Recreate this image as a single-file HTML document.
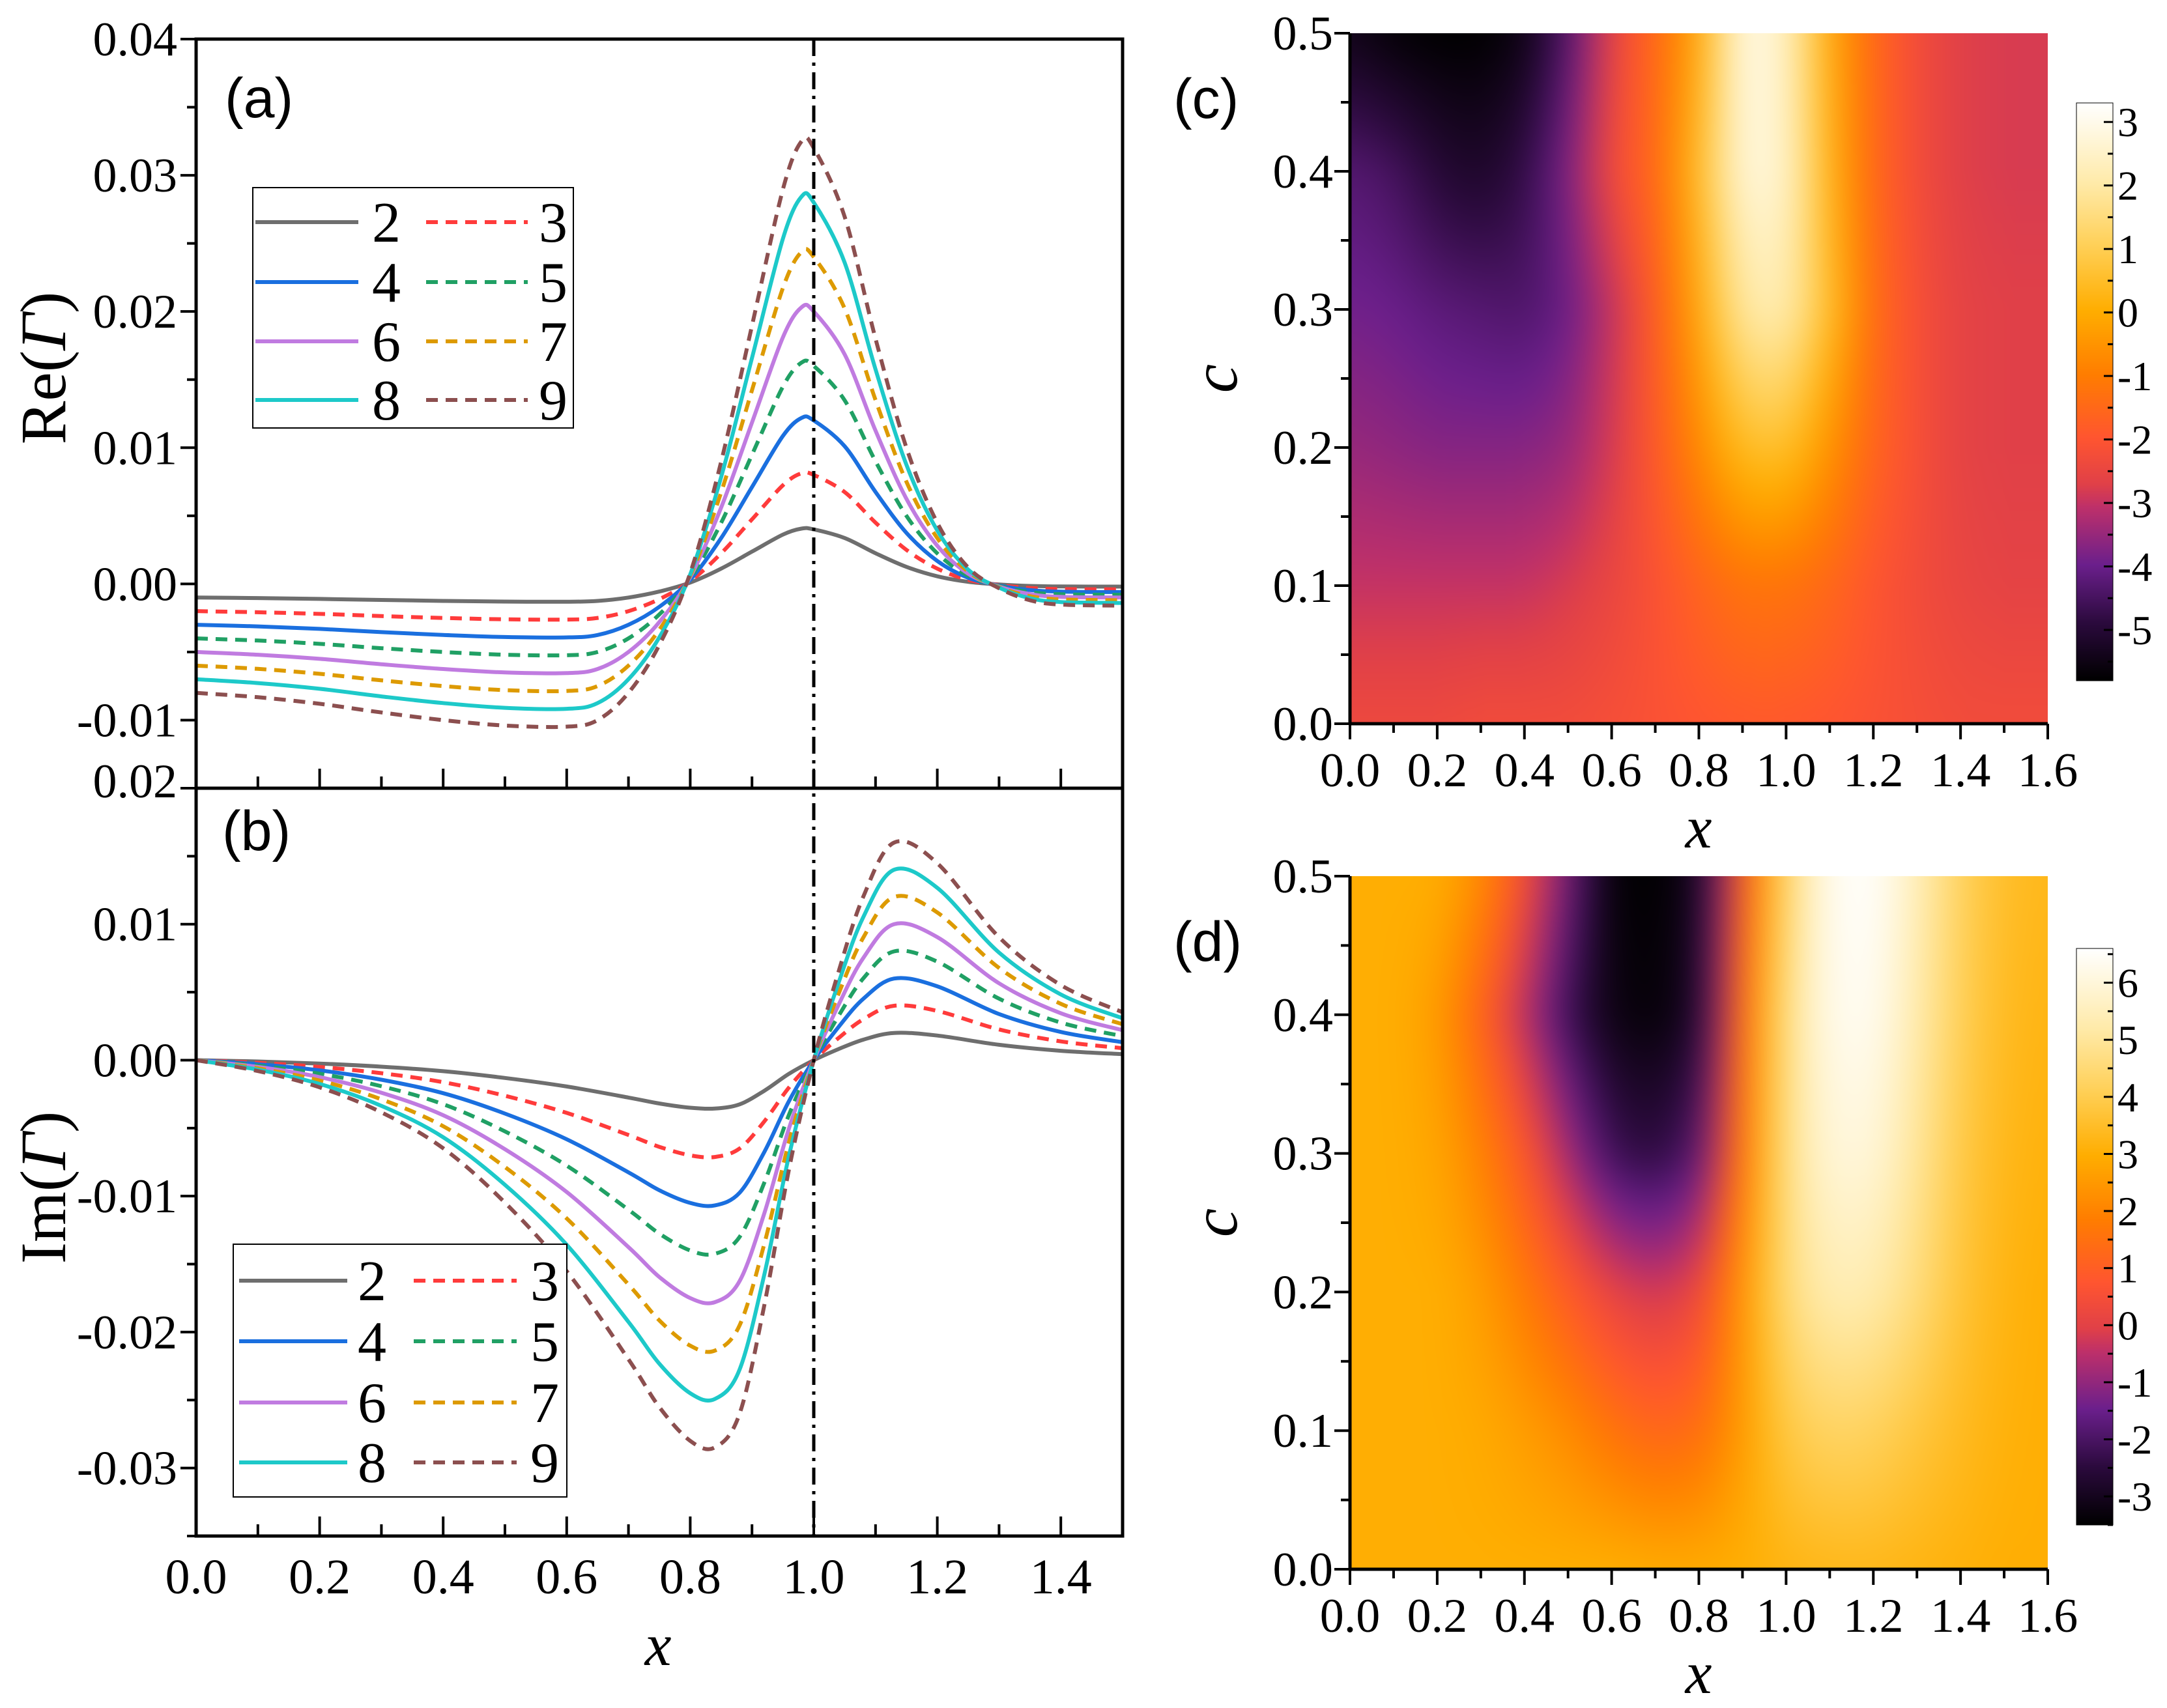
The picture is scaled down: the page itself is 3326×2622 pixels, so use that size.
<!DOCTYPE html>
<html><head><meta charset="utf-8">
<style>
html,body{margin:0;padding:0;background:#fff;}
#wrap{position:relative;width:3326px;height:2622px;overflow:hidden;background:#fff;}
canvas{position:absolute;}
svg{position:absolute;left:0;top:0;}
</style></head>
<body>
<div id="wrap">
<canvas id="hc" width="1071" height="1060" style="left:2072px;top:51px"></canvas>
<canvas id="hd" width="1071" height="1064" style="left:2072px;top:1345px"></canvas>
<canvas id="cbc" width="56" height="887" style="left:3187px;top:158px"></canvas>
<canvas id="cbd" width="56" height="885" style="left:3187px;top:1456px"></canvas>
<svg id="sv" width="3326" height="2622" xmlns="http://www.w3.org/2000/svg"></svg>
</div>
<script>
// ---------- data ----------
const series = ["2","3","4","5","6","7","8","9"];
const reX = [0,0.1,0.2,0.3,0.4,0.5,0.6,0.65,0.7,0.75,0.8,0.85,0.9,0.95,0.98,1.0,1.05,1.1,1.15,1.2,1.25,1.3,1.35,1.4,1.5];
const re2 = [-1.0,-1.04,-1.1,-1.18,-1.25,-1.3,-1.31,-1.25,-1.0,-0.56,0.1,1.12,2.37,3.62,4.06,4.0,3.37,2.25,1.25,0.56,0.15,-0.04,-0.15,-0.19,-0.2];
const re3 = [-2.0,-2.08,-2.2,-2.36,-2.5,-2.6,-2.62,-2.5,-2.0,-1.12,0.2,2.24,4.74,7.24,8.12,8.0,6.74,4.5,2.5,1.12,0.3,-0.08,-0.3,-0.38,-0.4];
const re4 = [-3.0,-3.12,-3.3,-3.54,-3.75,-3.9,-3.93,-3.75,-3.0,-1.68,0.3,3.36,7.11,10.86,12.18,12.0,10.11,6.75,3.75,1.68,0.45,-0.12,-0.45,-0.57,-0.6];
const re5 = [-4.0,-4.16,-4.4,-4.72,-5.0,-5.2,-5.24,-5.0,-4.0,-2.24,0.4,4.48,9.48,14.48,16.24,16.0,13.48,9.0,5.0,2.24,0.6,-0.16,-0.6,-0.76,-0.8];
const re6 = [-5.0,-5.2,-5.5,-5.9,-6.25,-6.5,-6.55,-6.25,-5.0,-2.8,0.5,5.6,11.85,18.1,20.3,20.0,16.85,11.25,6.25,2.8,0.75,-0.2,-0.75,-0.95,-1.0];
const re7 = [-6.0,-6.24,-6.6,-7.08,-7.5,-7.8,-7.86,-7.5,-6.0,-3.36,0.6,6.72,14.22,21.72,24.36,24.0,20.22,13.5,7.5,3.36,0.9,-0.24,-0.9,-1.14,-1.2];
const re8 = [-7.0,-7.28,-7.7,-8.26,-8.75,-9.1,-9.17,-8.75,-7.0,-3.92,0.7,7.84,16.59,25.34,28.42,28.0,23.59,15.75,8.75,3.92,1.05,-0.28,-1.05,-1.33,-1.4];
const re9 = [-8.0,-8.32,-8.8,-9.44,-10.0,-10.4,-10.48,-10.0,-8.0,-4.48,0.8,8.96,18.96,28.96,32.48,32.0,26.96,18.0,10.0,4.48,1.2,-0.32,-1.2,-1.52,-1.6];
const imX = [0,0.1,0.2,0.3,0.4,0.5,0.6,0.7,0.75,0.8,0.84,0.88,0.92,0.96,1.0,1.04,1.08,1.13,1.2,1.3,1.4,1.5];
const im2 = [0,-0.1,-0.25,-0.48,-0.81,-1.31,-1.94,-2.75,-3.19,-3.5,-3.56,-3.25,-2.25,-1.0,0,0.81,1.5,2.0,1.81,1.13,0.69,0.44];
const im3 = [0,-0.2,-0.5,-0.96,-1.62,-2.62,-3.88,-5.5,-6.38,-7.0,-7.12,-6.5,-4.5,-2.0,0,1.62,3.0,4.0,3.62,2.26,1.38,0.88];
const im4 = [0,-0.3,-0.75,-1.44,-2.43,-3.93,-5.82,-8.25,-9.57,-10.5,-10.68,-9.75,-6.75,-3.0,0,2.43,4.5,6.0,5.43,3.39,2.07,1.32];
const im5 = [0,-0.4,-1.0,-1.92,-3.24,-5.24,-7.76,-11.0,-12.76,-14.0,-14.24,-13.0,-9.0,-4.0,0,3.24,6.0,8.0,7.24,4.52,2.76,1.76];
const im6 = [0,-0.5,-1.25,-2.4,-4.05,-6.55,-9.7,-13.75,-15.95,-17.5,-17.8,-16.25,-11.25,-5.0,0,4.05,7.5,10.0,9.05,5.65,3.45,2.2];
const im7 = [0,-0.6,-1.5,-2.88,-4.86,-7.86,-11.64,-16.5,-19.14,-21.0,-21.36,-19.5,-13.5,-6.0,0,4.86,9.0,12.0,10.86,6.78,4.14,2.64];
const im8 = [0,-0.7,-1.75,-3.36,-5.67,-9.17,-13.58,-19.25,-22.33,-24.5,-24.92,-22.75,-15.75,-7.0,0,5.67,10.5,14.0,12.67,7.91,4.83,3.08];
const im9 = [0,-0.8,-2.0,-3.84,-6.48,-10.48,-15.52,-22.0,-25.52,-28.0,-28.48,-26.0,-18.0,-8.0,0,6.48,12.0,16.0,14.48,9.04,5.52,3.52];
const reTicks = ["0.04","0.03","0.02","0.01","0.00","-0.01"];
const imTicks = ["0.02","0.01","0.00","-0.01","-0.02","-0.03"];
const xTicksLine = ["0.0","0.2","0.4","0.6","0.8","1.0","1.2","1.4"];
const xTicksMap = ["0.0","0.2","0.4","0.6","0.8","1.0","1.2","1.4","1.6"];
const cTicks = ["0.0","0.1","0.2","0.3","0.4","0.5"];
const cbTicksC = ["3","2","1","0","-1","-2","-3","-4","-5"];
const cbTicksD = ["6","5","4","3","2","1","0","-1","-2","-3"];
// heatmap grids: columns x = 0..1.6 step 0.1, rows c = 0.0..0.5 step 0.1
const gridX = [0,0.1,0.2,0.3,0.4,0.5,0.6,0.7,0.8,0.9,1.0,1.1,1.2,1.3,1.4,1.5,1.6];
const gridC = [0,0.1,0.2,0.3,0.4,0.5];
const hmC0 = [-2.4,-2.4,-2.4,-2.3,-2.3,-2.3,-2.2,-2.1,-2.0,-1.9,-1.9,-2.0,-2.1,-2.2,-2.3,-2.3,-2.3];
const hmC1 = [-3.0,-3.0,-3.0,-3.0,-3.0,-2.8,-2.5,-2.1,-1.6,-1.2,-1.2,-1.5,-2.0,-2.3,-2.5,-2.6,-2.6];
const hmC2 = [-3.5,-3.6,-3.7,-3.7,-3.7,-3.5,-2.8,-1.9,-0.7,0.5,0.6,-0.5,-1.6,-2.2,-2.6,-2.7,-2.7];
const hmC3 = [-3.9,-4.0,-4.2,-4.3,-4.4,-4.0,-3.0,-1.8,0.0,2.0,2.2,0.5,-1.4,-2.2,-2.6,-2.7,-2.7];
const hmC4 = [-4.3,-4.5,-5.0,-5.2,-4.8,-3.8,-2.3,-1.5,0.5,2.8,2.6,0.2,-1.5,-2.3,-2.7,-2.8,-2.8];
const hmC5 = [-5.4,-5.7,-5.8,-5.8,-5.5,-4.3,-2.5,-1.5,0.0,3.0,2.5,0.0,-1.5,-2.3,-2.7,-2.8,-2.8];
const hmD0 = [3,3,3,3,3,3,3,2.9,2.9,3,3.2,3.3,3.3,3.2,3.1,3,3];
const hmD1 = [3,3,3,2.9,2.6,2.2,1.6,1.2,1.4,2.6,3.9,4.3,4.2,3.8,3.4,3.1,3.0];
const hmD2 = [3,3,3,2.6,1.8,0.9,0.1,-0.3,0.2,2.5,4.6,5.4,5.3,4.6,3.7,3.2,3.0];
const hmD3 = [3,3,2.8,2.0,0.8,-0.8,-2.2,-2.5,-1.8,1.8,4.8,6.0,6.0,5.0,3.9,3.3,3.1];
const hmD4 = [3,3,2.6,1.2,-0.5,-2.2,-3.2,-3.4,-2.8,1.5,4.8,6.3,6.4,5.3,4.1,3.4,3.2];
const hmD5 = [3,3,3,2.2,0.5,-1.5,-3.4,-3.5,-3.0,1.0,4.5,6.4,6.6,5.5,4.2,3.5,3.3];

// ---------- helpers ----------
const NS="http://www.w3.org/2000/svg";
const sv=document.getElementById('sv');
function mk(tag,attrs,parent){const e=document.createElementNS(NS,tag);for(const k in attrs)e.setAttribute(k,attrs[k]);(parent||sv).appendChild(e);return e;}
const SERIF='"Liberation Serif", serif', SANS='"Liberation Sans", sans-serif';
function txt(s,x,y,size,anchor,family,name,extra){const t=mk('text',Object.assign({x:x,y:y,'font-size':size,'text-anchor':anchor||'middle','font-family':family||SERIF,fill:'#000'},extra||{}));t.textContent=s;


return t;}
function line(x1,y1,x2,y2,w,name,extra){const l=mk('line',Object.assign({x1:x1,y1:y1,x2:x2,y2:y2,stroke:'#000','stroke-width':w},extra||{}));


return l;}
function smoothPath(pts){let d='M'+pts[0][0]+','+pts[0][1];for(let i=0;i<pts.length-1;i++){const p0=pts[i-1]||pts[i],p1=pts[i],p2=pts[i+1],p3=pts[i+2]||p2;const c1x=p1[0]+(p2[0]-p0[0])/6,c1y=p1[1]+(p2[1]-p0[1])/6,c2x=p2[0]-(p3[0]-p1[0])/6,c2y=p2[1]-(p3[1]-p1[1])/6;d+=' C'+c1x.toFixed(1)+','+c1y.toFixed(1)+' '+c2x.toFixed(1)+','+c2y.toFixed(1)+' '+p2[0].toFixed(1)+','+p2[1].toFixed(1);}return d;}

const colors=['#6e6e6e','#ff3b3b','#1a6fdf','#20a064','#c07be0','#dd9a00','#1dc9c9','#8c4f4f'];
const dashed=[false,true,false,true,false,true,false,true];

// ---------- line panels ----------
const L=301,R=1723;
const xs=v=>L+(v/1.5)*(R-L);
const A={T:60,B:1210,min:-0.015,max:0.04};
const Bp={T:1210,B:2358,min:-0.035,max:0.02};
const yA=v=>A.B-(v-A.min)/(A.max-A.min)*(A.B-A.T);
const yB=v=>Bp.B-(v-Bp.min)/(Bp.max-Bp.min)*(Bp.B-Bp.T);

const clipA=mk('clipPath',{id:'clipA'});mk('rect',{x:L,y:A.T,width:R-L,height:A.B-A.T},clipA);
const clipB=mk('clipPath',{id:'clipB'});mk('rect',{x:L,y:Bp.T,width:R-L,height:Bp.B-Bp.T},clipB);

const reData=[re2,re3,re4,re5,re6,re7,re8,re9];
const imData=[im2,im3,im4,im5,im6,im7,im8,im9];
const gA=mk('g',{'clip-path':'url(#clipA)'});

reData.forEach((arr,i)=>{
  const pts=reX.map((x,j)=>[xs(x),yA(arr[j]*0.001)]);
  const p=mk('path',{d:smoothPath(pts),fill:'none',stroke:colors[i],'stroke-width':6,'stroke-dasharray':dashed[i]?'18,12':'none'},gA);
  
  
});
const gB=mk('g',{'clip-path':'url(#clipB)'});

imData.forEach((arr,i)=>{
  const pts=imX.map((x,j)=>[xs(x),yB(arr[j]*0.001)]);
  const p=mk('path',{d:smoothPath(pts),fill:'none',stroke:colors[i],'stroke-width':6,'stroke-dasharray':dashed[i]?'18,12':'none'},gB);
  
  
});
line(xs(1.0),A.T,xs(1.0),Bp.B,5,'reference-line-x1',{'stroke-dasharray':'26,10,5,10'});

[[A,'frame-a'],[Bp,'frame-b']].forEach(([P,n])=>{const r=mk('rect',{x:L,y:P.T,width:R-L,height:P.B-P.T,fill:'none',stroke:'#000','stroke-width':5});});
for(let v=-0.015;v<=0.0401;v+=0.005){const y=yA(v);const major=Math.abs(Math.round(v*1000)%10)===0;line(L-(major?24:14),y,L,y,4,'y-tick-a');}
for(let v=-0.035;v<=0.0201;v+=0.005){const y=yB(v);const major=Math.abs(Math.round(v*1000)%10)===0;line(L-(major?24:14),y,L,y,4,'y-tick-b');}
reTicks.forEach((s,i)=>txt(s,272,yA(0.04-i*0.01)+25,74,'end',SERIF,'y-tick-label-a'));
imTicks.forEach((s,i)=>txt(s,272,yB(0.02-i*0.01)+(i===0?14:25),74,'end',SERIF,'y-tick-label-b'));
for(let k=0;k<=15;k++){const v=k*0.1,x=xs(v),len=(k%2===0)?30:18;line(x,A.B,x,A.B-len,4,'x-tick-a');line(x,Bp.B,x,Bp.B-len,4,'x-tick-b');}
xTicksLine.forEach((s,i)=>txt(s,xs(i*0.2),2446,76,'middle',SERIF,'x-tick-label'));
txt('x',1010,2556,92,'middle',SERIF,'x-axis-title',{'font-style':'italic'});
const ta=txt('',0,0,100,'middle',SERIF,'y-axis-title-a',{transform:'translate(100,565) rotate(-90)'});ta.innerHTML='Re(<tspan font-style="italic">Γ</tspan>)';
const tb=txt('',0,0,100,'middle',SERIF,'y-axis-title-b',{transform:'translate(100,1823) rotate(-90)'});tb.innerHTML='Im(<tspan font-style="italic">Γ</tspan>)';
txt('(a)',345,180,86,'start',SANS,'panel-label-a');
txt('(b)',341,1305,86,'start',SANS,'panel-label-b');

function legend(bx,by,bw,bh,rows,l1,t1,l2,t2,name){
  const g=mk('g',{});
  mk('rect',{x:bx,y:by,width:bw,height:bh,fill:'#fff',stroke:'#000','stroke-width':2},g);
  for(let r=0;r<4;r++){
    for(let c=0;c<2;c++){
      const i=r*2+c;const y=rows[r];
      const ln=mk('line',{x1:c?l2[0]:l1[0],x2:c?l2[1]:l1[1],y1:y,y2:y,stroke:colors[i],'stroke-width':6,'stroke-dasharray':dashed[i]?'18,12':'none'},g);
      
      const t=mk('text',{x:c?t2:t1,y:y+30,'font-size':88,'text-anchor':'middle','font-family':SERIF},g);t.textContent=series[i];
      
    }
  }
}
legend(388,288,492,369,[341,433,524,614],[392,550],593,[654,810],849,'legend-a');
legend(358,1910,512,388,[1966,2059,2153,2245],[367,533],571,[635,793],836,'legend-b');

// ---------- heatmaps ----------
const stops=[[0,[0,0,0]],[0.1,[43,10,61]],[0.2,[107,31,140]],[0.3,[190,48,106]],[0.34,[224,64,72]],[0.42,[255,85,48]],[0.53,[255,125,0]],[0.64,[255,173,0]],[0.75,[255,207,85]],[0.86,[255,234,168]],[1,[255,255,255]]];
function cmap(t){t=Math.max(0,Math.min(1,t));for(let i=0;i<stops.length-1;i++){const a=stops[i],b=stops[i+1];if(t<=b[0]){const f=(t-a[0])/(b[0]-a[0]);return [0,1,2].map(k=>a[1][k]+(b[1][k]-a[1][k])*f);}}return [255,255,255];}
function drawHeat(id,rows,vmin,vmax){
  const cv=document.getElementById(id),ctx=cv.getContext('2d'),W=cv.width,H=cv.height;
  const P=120,OW=W+2*P,OH=H+2*P;
  const off=document.createElement('canvas');off.width=OW;off.height=OH;
  const octx=off.getContext('2d');const img=octx.createImageData(OW,OH);
  for(let qy=0;qy<OH;qy++){
    const py=Math.max(0,Math.min(H-1,qy-P));
    const cval=0.5*(1-py/(H-1));const fy=cval/0.1;let r0=Math.min(4,Math.floor(fy));const ty=fy-r0;
    for(let qx=0;qx<OW;qx++){
      const px=Math.max(0,Math.min(W-1,qx-P));
      const xv=1.6*px/(W-1);const fx=xv/0.1;let c0=Math.min(15,Math.floor(fx));const tx=fx-c0;
      const a=rows[r0][c0]*(1-tx)+rows[r0][c0+1]*tx,b=rows[r0+1][c0]*(1-tx)+rows[r0+1][c0+1]*tx;
      const v=a*(1-ty)+b*ty;const col=cmap((v-vmin)/(vmax-vmin));const o=(qy*OW+qx)*4;
      img.data[o]=col[0];img.data[o+1]=col[1];img.data[o+2]=col[2];img.data[o+3]=255;
    }
  }
  octx.putImageData(img,0,0);
  ctx.filter='blur(28px)';
  ctx.drawImage(off,-P,-P);
  ctx.filter='none';
}
drawHeat('hc',[hmC0,hmC1,hmC2,hmC3,hmC4,hmC5],-5.8,3.3);
drawHeat('hd',[hmD0,hmD1,hmD2,hmD3,hmD4,hmD5],-3.5,6.6);
function drawBar(id){const cv=document.getElementById(id),ctx=cv.getContext('2d');for(let y=0;y<cv.height;y++){const c=cmap(1-y/(cv.height-1));ctx.fillStyle='rgb('+c.map(Math.round).join(',')+')';ctx.fillRect(0,y,cv.width,1);}}
drawBar('cbc');drawBar('cbd');

function mapAxes(T,B,tag,lab){
  const HL=2072,HR=3143;const mx=v=>HL+v/1.6*(HR-HL),my=v=>B-v/0.5*(B-T);
  line(HL,T,HL,B+2,5,'y-axis-'+tag);line(HL-2,B,HR,B,5,'x-axis-'+tag);
  for(let k=0;k<=10;k++){const y=my(k*0.05);line(HL-(k%2?14:24),y,HL,y,4,'y-tick-'+tag);}
  cTicks.forEach((s,i)=>txt(s,2046,my(i*0.1)+25,74,'end',SERIF,'y-tick-label-'+tag));
  for(let k=0;k<=16;k++){const x=mx(k*0.1);line(x,B,x,B+(k%2?14:24),4,'x-tick-'+tag);}
  xTicksMap.forEach((s,i)=>txt(s,mx(i*0.2),B+96,74,'middle',SERIF,'x-tick-label-'+tag));
  txt('x',2607,B+190,92,'middle',SERIF,'x-axis-title-'+tag,{'font-style':'italic'});
  txt('c',0,0,100,'middle',SERIF,'y-axis-title-'+tag,{'font-style':'italic',transform:'translate(1898,'+((T+B)/2)+') rotate(-90)'});
  txt(lab,1801,T+130,86,'start',SANS,'panel-label-'+tag);
}
mapAxes(51,1111,'c','(c)');
mapAxes(1345,2409,'d','(d)');
function cbAxis(top,bot,vmax,vmin,labels,first,tag){
  const yv=v=>top+(vmax-v)/(vmax-vmin)*(bot-top);
  for(let v=Math.ceil(vmin*2)/2;v<=vmax;v+=0.5){const y=yv(v);line(3243-(Number.isInteger(v)?14:8),y,3243,y,3,'colorbar-tick-'+tag);}
  labels.forEach((s,i)=>txt(s,3250,yv(first-i)+22,64,'start',SERIF,'colorbar-label-'+tag));
  const r=mk('rect',{x:3187,y:top,width:56,height:bot-top,fill:'none',stroke:'#000','stroke-width':1});
}
cbAxis(158,1045,3.3,-5.8,cbTicksC,3,'c');
cbAxis(1456,2341,6.6,-3.5,cbTicksD,6,'d');
</script>
</body></html>
